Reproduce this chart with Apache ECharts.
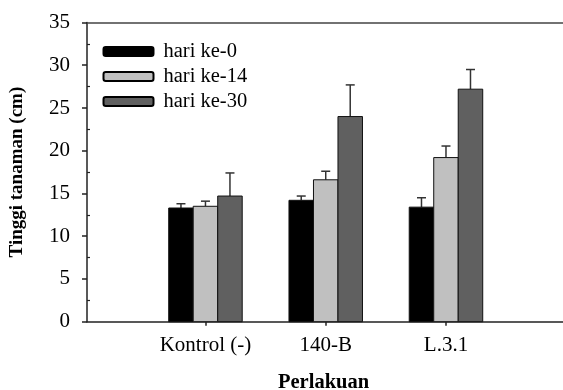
<!DOCTYPE html>
<html><head><meta charset="utf-8">
<script src="https://cdn.jsdelivr.net/npm/echarts@6/dist/echarts.min.js"></script>
<style>html,body{margin:0;padding:0;background:#fff}#c{width:563px;height:390px}</style>
</head><body><div id="c"></div>
<script>
var categories = ['Kontrol (-)', '140-B', 'L.3.1'];
var seriesNames = ['hari ke-0', 'hari ke-14', 'hari ke-30'];
var day0 = [13.3, 14.2, 13.4];
var day0Err = [0.5, 0.5, 1.1];
var day14 = [13.5, 16.6, 19.2];
var day14Err = [0.6, 1.0, 1.35];
var day30 = [14.7, 24.0, 27.2];
var day30Err = [2.7, 3.7, 2.3];
var yTicks = [0, 5, 10, 15, 20, 25, 30, 35];

var values = [day0, day14, day30];
var errs = [day0Err, day14Err, day30Err];
var colors = ['#000000', '#c0c0c0', '#606060'];
var BW = 24.5;
var font = '"Liberation Serif", "Times New Roman", serif';

function makeSeries(s) {
  var data = values[s].map(function (v, i) { return [i + 1, v, errs[s][i]]; });
  return {
    type: 'custom', name: seriesNames[s],
    itemStyle: { color: colors[s], borderColor: '#000', borderWidth: 1 },
    data: data,
    renderItem: function (params, api) {
      var c = api.coord([api.value(0), api.value(1)]);
      var base = api.coord([api.value(0), 0]);
      var top = api.coord([api.value(0), api.value(1) + api.value(2)]);
      var x0 = c[0] + (s - 1) * BW - BW / 2;
      var cx = c[0] + (s - 1) * BW;
      return { type: 'group', children: [
        { type: 'line', shape: { x1: cx, y1: c[1], x2: cx, y2: top[1] },
          style: { stroke: '#333', lineWidth: 1.5 } },
        { type: 'line', shape: { x1: cx - 4.5, y1: top[1], x2: cx + 4.5, y2: top[1] },
          style: { stroke: '#333', lineWidth: 1.5 } },
        { type: 'rect', shape: { x: x0, y: c[1], width: BW, height: base[1] - c[1] },
          style: { fill: colors[s], stroke: '#111', lineWidth: 1 } }
      ]};
    }
  };
}

var chart = echarts.init(document.getElementById('c'), null, { renderer: 'canvas' });
chart.setOption({
  animation: false,
  backgroundColor: '#fff',
  grid: { left: 87, top: 22.5, right: 0, bottom: 68.3, containLabel: false },
  legend: {
    orient: 'vertical', left: 102.5, top: 41, padding: 0,
    itemWidth: 50, itemHeight: 9, itemGap: 4, icon: 'roundRect',
    textStyle: { fontFamily: font, fontSize: 20.5, color: '#000', padding: [0, 0, 0, 5], lineHeight: 20 },
    data: seriesNames
  },
  xAxis: [{
    type: 'value', min: 0.015, max: 3.973,
    axisLine: { show: true, lineStyle: { color: '#222', width: 1.5 } },
    axisTick: { show: true, customValues: [1, 2, 3], length: 4, lineStyle: { color: '#222', width: 1.5 } },
    axisLabel: { customValues: [1, 2, 3], formatter: function (v) { return categories[Math.round(v) - 1] || ''; },
      fontFamily: font, fontSize: 21, color: '#000', margin: 13 },
    splitLine: { show: false }
  }, {
    type: 'value', position: 'top', min: 0.015, max: 3.973,
    axisLine: { show: true, onZero: false, lineStyle: { color: '#444', width: 1.5 } },
    axisTick: { show: false }, axisLabel: { show: false }, splitLine: { show: false }
  }],
  yAxis: [{
    type: 'value', min: 0, max: 35, interval: 5,
    name: 'Tinggi tanaman (cm)', nameLocation: 'middle', nameGap: 60,
    nameTextStyle: { fontFamily: font, fontSize: 19, fontWeight: 'bold', color: '#000' },
    axisLine: { show: true, lineStyle: { color: '#222', width: 1.5 } },
    axisTick: { show: true, length: 5, lineStyle: { color: '#222', width: 1.5 } },
    axisLabel: { fontFamily: font, fontSize: 21, color: '#000', margin: 17,
      formatter: function (v) { return yTicks.indexOf(v) >= 0 ? String(v) : ''; } },
    splitLine: { show: false }
  }, {
    type: 'value', min: 0, max: 35, position: 'left',
    axisLine: { show: false },
    axisTick: { show: true, inside: true, length: 3, customValues: [2.5, 7.5, 12.5, 17.5, 22.5, 27.5, 32.5],
      lineStyle: { color: '#222', width: 1.2 } },
    axisLabel: { show: false }, splitLine: { show: false }
  }],
  graphic: [{
    type: 'text', left: 278, top: 372,
    style: { text: 'Perlakuan', fontFamily: font, fontSize: 20.5, fontWeight: 'bold', fill: '#000' }
  }],
  series: [makeSeries(0), makeSeries(1), makeSeries(2)]
});
</script></body></html>
